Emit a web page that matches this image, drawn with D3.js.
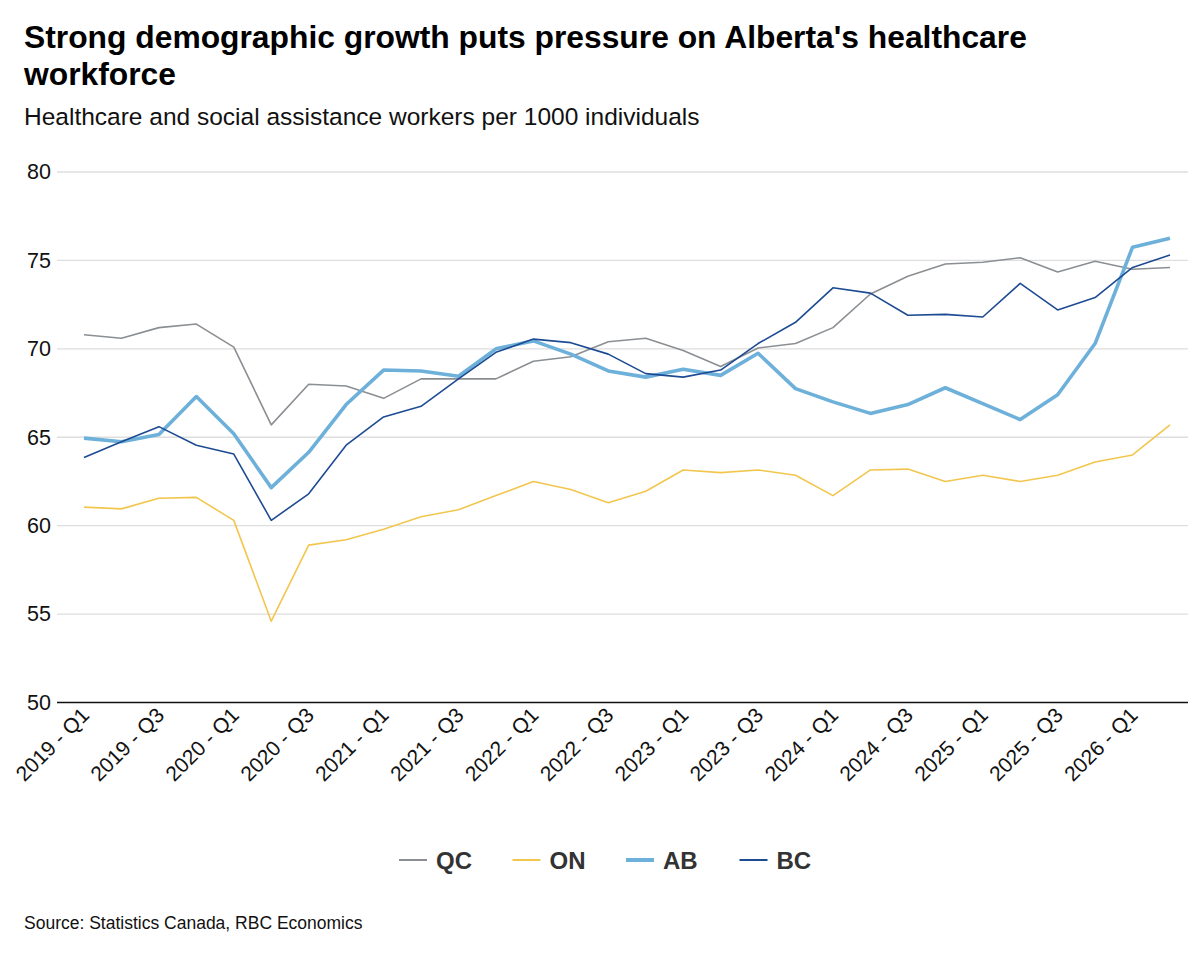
<!DOCTYPE html>
<html lang="en">
<head>
<meta charset="UTF-8">
<title>Alberta healthcare workforce</title>
<script src="https://d3js.org/d3.v7.min.js"></script>
<style>
  body { margin: 0; background: #fff; }
  text { font-family: "Liberation Sans", Arial, sans-serif; }
</style>
</head>
<body>
<div id="chart"></div>
<script>
// quarters 2019 Q1 .. 2026 Q2
var quarters = [];
for (var yr = 2019; yr <= 2026; yr++) {
  for (var q = 1; q <= 4; q++) {
    if (yr === 2026 && q > 2) break;
    quarters.push(yr + " - Q" + q);
  }
}

var qc = [70.8, 70.6, 71.2, 71.4, 70.1, 65.7, 68.0, 67.9, 67.2, 68.3, 68.3, 68.3, 69.3, 69.55, 70.4,
          70.6, 69.9, 69.0, 70.05, 70.3, 71.2, 73.1, 74.1, 74.8, 74.9, 75.15, 74.35, 74.95, 74.5, 74.6];
var on = [61.05, 60.95, 61.55, 61.6, 60.3, 54.6, 58.9, 59.2, 59.8, 60.5, 60.9, 61.7, 62.5, 62.05, 61.3,
          61.95, 63.15, 63.0, 63.15, 62.85, 61.7, 63.15, 63.2, 62.5, 62.85, 62.5, 62.85, 63.6, 64.0, 65.7];
var ab = [64.95, 64.75, 65.15, 67.3, 65.2, 62.15, 64.15, 66.85, 68.8, 68.75, 68.45, 70.0, 70.45, 69.7, 68.75,
          68.4, 68.85, 68.5, 69.75, 67.75, 67.0, 66.35, 66.85, 67.8, 66.9, 66.0, 67.4, 70.3, 75.75, 76.25];
var bc = [63.85, 64.75, 65.6, 64.55, 64.05, 60.3, 61.8, 64.55, 66.15, 66.75, 68.3, 69.8, 70.55, 70.35, 69.7,
          68.6, 68.4, 68.8, 70.3, 71.5, 73.45, 73.15, 71.9, 71.95, 71.8, 73.7, 72.2, 72.9, 74.6, 75.3];

var seriesNames = ["QC", "ON", "AB", "BC"];
var seriesValues = [qc, on, ab, bc];
var seriesColors = ["#8b8f93", "#f2c64e", "#6db0da", "#1d4b93"];
var seriesWidths = [1.6, 1.6, 3.6, 1.6];

var yTicks = [50, 55, 60, 65, 70, 75, 80];
var xTickLabels = quarters.filter(function(d, i) { return i % 2 === 0; });

var W = 1200, H = 956;
var svg = d3.select("#chart").append("svg")
  .attr("width", W).attr("height", H);

// titles
svg.append("text").attr("x", 24).attr("y", 48)
  .attr("font-size", 31.8).attr("font-weight", "bold").attr("fill", "#000")
  .text("Strong demographic growth puts pressure on Alberta's healthcare");
svg.append("text").attr("x", 24).attr("y", 85)
  .attr("font-size", 31.8).attr("font-weight", "bold").attr("fill", "#000")
  .text("workforce");
svg.append("text").attr("x", 24).attr("y", 125)
  .attr("font-size", 24.5).attr("fill", "#111")
  .text("Healthcare and social assistance workers per 1000 individuals");

// scales
var gridLeft = 57, gridRight = 1188;
var x = d3.scalePoint().domain(quarters).range([84, 1170]);
var y = d3.scaleLinear().domain([50, 80]).range([702.5, 172]);

// gridlines
svg.append("g").selectAll("line")
  .data(yTicks.filter(function(d) { return d > 50; }))
  .enter().append("line")
  .attr("x1", gridLeft).attr("x2", gridRight)
  .attr("y1", function(d) { return y(d); }).attr("y2", function(d) { return y(d); })
  .attr("stroke", "#dedede").attr("stroke-width", 1.3);

// y axis labels
var yAxis = d3.axisLeft(y).tickValues(yTicks).tickSize(0).tickPadding(6);
var gy = svg.append("g").attr("transform", "translate(" + gridLeft + ",0)").call(yAxis);
gy.select(".domain").remove();
gy.selectAll("text").attr("font-size", 21.5).attr("fill", "#111")
  .attr("font-family", "Liberation Sans, Arial, sans-serif");

// baseline
svg.append("line")
  .attr("x1", gridLeft).attr("x2", gridRight)
  .attr("y1", y(50)).attr("y2", y(50))
  .attr("stroke", "#111").attr("stroke-width", 1.5);

// x axis labels
var xAxis = d3.axisBottom(x).tickValues(xTickLabels).tickSize(0).tickPadding(0);
var gx = svg.append("g").attr("transform", "translate(0," + y(50) + ")").call(xAxis);
gx.select(".domain").remove();
gx.selectAll("text")
  .attr("font-size", 21).attr("fill", "#111")
  .attr("font-family", "Liberation Sans, Arial, sans-serif")
  .attr("text-anchor", "end")
  .attr("dy", "0")
  .attr("transform", "translate(6,14) rotate(-45)");

// lines
var line = d3.line()
  .x(function(d, i) { return x(quarters[i]); })
  .y(function(d) { return y(d); });

seriesValues.forEach(function(vals, k) {
  svg.append("path")
    .datum(vals)
    .attr("fill", "none")
    .attr("stroke", seriesColors[k])
    .attr("stroke-width", seriesWidths[k])
    .attr("stroke-linejoin", "round")
    .attr("d", line);
});

// legend
var legend = svg.append("g").attr("transform", "translate(399,860)");
seriesNames.forEach(function(name, k) {
  var g = legend.append("g").attr("transform", "translate(" + (k * 113.5) + ",0)");
  g.append("line").attr("x1", 0).attr("x2", 28).attr("y1", 0).attr("y2", 0)
    .attr("stroke", seriesColors[k]).attr("stroke-width", k === 2 ? 4 : 2);
  g.append("text").attr("x", 37).attr("y", 8.5)
    .attr("font-size", 24).attr("font-weight", "bold").attr("fill", "#333")
    .text(name);
});

// source
svg.append("text").attr("x", 24).attr("y", 929)
  .attr("font-size", 17.5).attr("fill", "#111")
  .text("Source: Statistics Canada, RBC Economics");
</script>
</body>
</html>
